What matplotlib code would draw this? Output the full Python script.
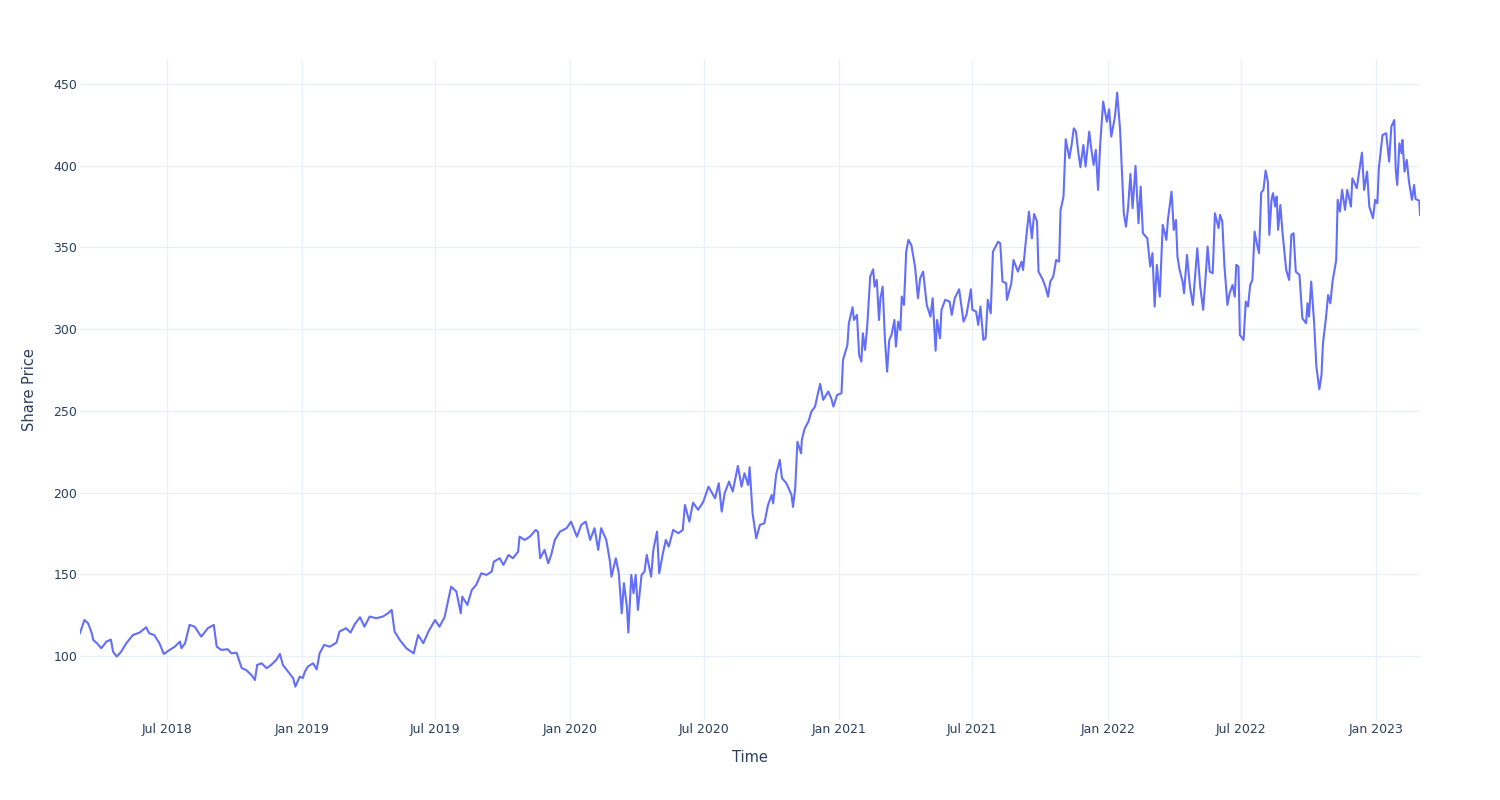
import matplotlib
matplotlib.use("Agg")
import matplotlib.pyplot as plt
import matplotlib.dates as mdates
import pandas as pd

# share price readings (date, close)
dates = [
    "2018-03-05", "2018-03-11", "2018-03-16", "2018-03-21", "2018-03-23", "2018-03-28",
    "2018-04-03", "2018-04-10", "2018-04-16", "2018-04-19", "2018-04-24", "2018-04-30",
    "2018-05-07", "2018-05-16", "2018-05-25", "2018-06-03", "2018-06-07", "2018-06-14",
    "2018-06-21", "2018-06-27", "2018-07-05", "2018-07-12", "2018-07-19", "2018-07-21",
    "2018-07-26", "2018-08-01", "2018-08-08", "2018-08-17", "2018-08-26", "2018-09-03",
    "2018-09-07", "2018-09-13", "2018-09-22", "2018-09-27", "2018-10-04", "2018-10-11",
    "2018-10-17", "2018-10-24", "2018-10-29", "2018-11-01", "2018-11-07", "2018-11-14",
    "2018-11-20", "2018-11-27", "2018-12-02", "2018-12-06", "2018-12-13", "2018-12-20",
    "2018-12-23", "2018-12-29", "2019-01-02", "2019-01-05", "2019-01-09", "2019-01-16",
    "2019-01-21", "2019-01-25", "2019-01-31", "2019-02-08", "2019-02-17", "2019-02-21",
    "2019-03-02", "2019-03-08", "2019-03-14", "2019-03-21", "2019-03-27", "2019-04-03",
    "2019-04-12", "2019-04-21", "2019-04-28", "2019-05-03", "2019-05-07", "2019-05-14",
    "2019-05-23", "2019-06-02", "2019-06-08", "2019-06-15", "2019-06-22", "2019-07-01",
    "2019-07-07", "2019-07-14", "2019-07-19", "2019-07-23", "2019-07-30", "2019-08-05",
    "2019-08-07", "2019-08-14", "2019-08-20", "2019-08-26", "2019-09-02", "2019-09-09",
    "2019-09-16", "2019-09-19", "2019-09-27", "2019-10-02", "2019-10-09", "2019-10-15",
    "2019-10-22", "2019-10-24", "2019-10-31", "2019-11-07", "2019-11-15", "2019-11-18",
    "2019-11-21", "2019-11-27", "2019-12-02", "2019-12-06", "2019-12-11", "2019-12-18",
    "2019-12-27", "2020-01-02", "2020-01-10", "2020-01-16", "2020-01-22", "2020-01-28",
    "2020-02-03", "2020-02-08", "2020-02-12", "2020-02-19", "2020-02-24", "2020-02-26",
    "2020-03-03", "2020-03-07", "2020-03-11", "2020-03-14", "2020-03-18", "2020-03-20",
    "2020-03-24", "2020-03-27", "2020-03-30", "2020-04-02", "2020-04-07", "2020-04-11",
    "2020-04-14", "2020-04-20", "2020-04-23", "2020-04-28", "2020-05-01", "2020-05-06",
    "2020-05-10", "2020-05-14", "2020-05-20", "2020-05-27", "2020-06-02", "2020-06-05",
    "2020-06-11", "2020-06-16", "2020-06-23", "2020-06-30", "2020-07-07", "2020-07-16",
    "2020-07-21", "2020-07-25", "2020-07-29", "2020-08-04", "2020-08-09", "2020-08-16",
    "2020-08-21", "2020-08-25", "2020-08-30", "2020-09-01", "2020-09-05", "2020-09-10",
    "2020-09-15", "2020-09-21", "2020-09-26", "2020-10-01", "2020-10-03", "2020-10-07",
    "2020-10-12", "2020-10-15", "2020-10-21", "2020-10-28", "2020-10-30", "2020-11-02",
    "2020-11-05", "2020-11-10", "2020-11-11", "2020-11-15", "2020-11-20", "2020-11-24",
    "2020-11-29", "2020-12-03", "2020-12-06", "2020-12-10", "2020-12-17", "2020-12-21",
    "2020-12-24", "2020-12-29", "2021-01-04", "2021-01-06", "2021-01-12", "2021-01-14",
    "2021-01-19", "2021-01-21", "2021-01-25", "2021-01-28", "2021-01-31", "2021-02-02",
    "2021-02-05", "2021-02-08", "2021-02-12", "2021-02-16", "2021-02-18", "2021-02-21",
    "2021-02-24", "2021-02-26", "2021-03-01", "2021-03-04", "2021-03-07", "2021-03-10",
    "2021-03-13", "2021-03-17", "2021-03-19", "2021-03-22", "2021-03-25", "2021-03-27",
    "2021-03-30", "2021-04-02", "2021-04-05", "2021-04-09", "2021-04-14", "2021-04-18",
    "2021-04-21", "2021-04-25", "2021-04-30", "2021-05-05", "2021-05-08", "2021-05-12",
    "2021-05-14", "2021-05-18", "2021-05-20", "2021-05-25", "2021-05-31", "2021-06-03",
    "2021-06-07", "2021-06-13", "2021-06-19", "2021-06-23", "2021-06-29", "2021-07-01",
    "2021-07-06", "2021-07-09", "2021-07-12", "2021-07-16", "2021-07-19", "2021-07-22",
    "2021-07-26", "2021-07-29", "2021-08-05", "2021-08-08", "2021-08-11", "2021-08-16",
    "2021-08-17", "2021-08-23", "2021-08-26", "2021-09-01", "2021-09-06", "2021-09-08",
    "2021-09-11", "2021-09-16", "2021-09-20", "2021-09-23", "2021-09-27", "2021-09-29",
    "2021-10-05", "2021-10-09", "2021-10-12", "2021-10-15", "2021-10-19", "2021-10-23",
    "2021-10-27", "2021-10-29", "2021-11-02", "2021-11-05", "2021-11-10", "2021-11-13",
    "2021-11-16", "2021-11-19", "2021-11-22", "2021-11-25", "2021-11-29", "2021-12-02",
    "2021-12-07", "2021-12-10", "2021-12-13", "2021-12-16", "2021-12-19", "2021-12-22",
    "2021-12-26", "2021-12-31", "2022-01-03", "2022-01-06", "2022-01-11", "2022-01-14",
    "2022-01-18", "2022-01-21", "2022-01-23", "2022-01-26", "2022-01-29", "2022-02-01",
    "2022-02-04", "2022-02-08", "2022-02-12", "2022-02-15", "2022-02-18", "2022-02-24",
    "2022-02-28", "2022-03-03", "2022-03-06", "2022-03-09", "2022-03-13", "2022-03-17",
    "2022-03-22", "2022-03-24", "2022-03-29", "2022-04-01", "2022-04-04", "2022-04-06",
    "2022-04-09", "2022-04-13", "2022-04-15", "2022-04-19", "2022-04-23", "2022-04-27",
    "2022-04-30", "2022-05-03", "2022-05-07", "2022-05-11", "2022-05-15", "2022-05-17",
    "2022-05-20", "2022-05-24", "2022-05-27", "2022-06-01", "2022-06-03", "2022-06-06",
    "2022-06-09", "2022-06-13", "2022-06-16", "2022-06-20", "2022-06-23", "2022-06-25",
    "2022-06-28", "2022-06-30", "2022-07-05", "2022-07-08", "2022-07-11", "2022-07-14",
    "2022-07-17", "2022-07-20", "2022-07-23", "2022-07-26", "2022-07-29", "2022-08-01",
    "2022-08-04", "2022-08-07", "2022-08-09", "2022-08-12", "2022-08-14", "2022-08-17",
    "2022-08-19", "2022-08-21", "2022-08-24", "2022-08-27", "2022-09-01", "2022-09-05",
    "2022-09-08", "2022-09-11", "2022-09-14", "2022-09-19", "2022-09-23", "2022-09-28",
    "2022-09-30", "2022-10-02", "2022-10-05", "2022-10-09", "2022-10-12", "2022-10-16",
    "2022-10-19", "2022-10-21", "2022-10-25", "2022-10-28", "2022-10-31", "2022-11-03",
    "2022-11-08", "2022-11-10", "2022-11-13", "2022-11-16", "2022-11-20", "2022-11-23",
    "2022-11-28", "2022-11-30", "2022-12-06", "2022-12-09", "2022-12-13", "2022-12-16",
    "2022-12-20", "2022-12-23", "2022-12-28", "2022-12-31", "2023-01-03", "2023-01-05",
    "2023-01-10", "2023-01-15", "2023-01-19", "2023-01-22", "2023-01-26", "2023-01-28",
    "2023-01-30", "2023-02-02", "2023-02-05", "2023-02-06", "2023-02-09", "2023-02-12",
    "2023-02-15", "2023-02-19", "2023-02-22", "2023-02-24", "2023-03-01", "2023-03-02",
]
prices = [
    114.0, 122.0, 120.0, 114.0, 109.8, 107.8,
    104.7, 108.8, 110.0, 102.6, 99.6, 102.6,
    107.8, 112.8, 114.3, 117.6, 113.9, 112.8,
    107.8, 101.2, 103.7, 105.7, 108.8, 104.7,
    107.8, 119.0, 117.9, 111.8, 117.0, 119.0,
    105.7, 103.7, 104.1, 101.6, 102.0, 92.5,
    91.4, 88.4, 85.3, 94.5, 95.5, 92.5,
    94.5, 97.6, 101.2, 94.5, 90.4, 86.4,
    81.2, 87.4, 86.4, 90.4, 93.5, 95.5,
    91.8, 101.6, 106.7, 105.7, 108.2, 114.9,
    117.0, 114.3, 119.6, 123.7, 117.9, 124.1,
    123.1, 124.1, 126.1, 128.2, 114.9, 109.8,
    104.7, 101.6, 112.8, 107.8, 114.9, 122.0,
    117.9, 123.7, 134.3, 142.4, 139.4, 126.1,
    136.3, 131.2, 140.4, 143.5, 150.6, 149.6,
    151.6, 157.7, 159.8, 155.7, 161.8, 159.8,
    163.8, 173.0, 171.0, 173.0, 177.1, 176.0,
    159.8, 164.9, 156.7, 161.8, 171.0, 176.1,
    178.2, 182.2, 173.0, 180.2, 182.2, 171.0,
    178.2, 164.9, 178.2, 171.0, 157.7, 148.5,
    159.8, 150.6, 126.1, 144.5, 130.2, 114.3,
    149.6, 138.4, 149.6, 128.2, 149.6, 151.6,
    161.8, 148.5, 164.9, 176.1, 150.6, 162.8,
    171.0, 166.9, 177.1, 175.1, 177.1, 192.4,
    182.2, 193.8, 189.4, 194.4, 203.6, 196.5,
    205.7, 188.3, 199.6, 206.7, 200.6, 216.3,
    203.6, 211.8, 204.6, 215.5, 187.3, 172.0,
    180.2, 181.2, 192.4, 198.5, 193.4, 210.8,
    220.0, 208.8, 205.7, 198.5, 191.2, 202.6,
    231.1, 224.0, 232.2, 239.3, 243.4, 249.5,
    252.6, 260.8, 266.5, 256.7, 261.8, 257.7,
    252.6, 259.7, 260.8, 281.1, 290.3, 303.6,
    313.4, 305.6, 308.7, 284.2, 280.1, 297.5,
    287.3, 302.0, 332.1, 336.6, 326.0, 330.1,
    305.6, 318.9, 326.0, 294.4, 274.0, 293.4,
    296.4, 305.6, 289.3, 304.6, 299.5, 319.9,
    314.8, 347.4, 354.6, 351.5, 338.3, 318.9,
    331.1, 335.2, 314.8, 307.7, 318.9, 286.8,
    305.6, 294.4, 311.8, 317.9, 316.9, 308.7,
    318.9, 324.4, 304.6, 308.7, 324.4, 311.8,
    310.8, 302.6, 313.8, 293.4, 294.4, 317.9,
    309.7, 347.4, 353.5, 352.5, 329.1, 328.1,
    317.9, 328.1, 342.3, 335.2, 341.3, 336.2,
    350.5, 371.9, 355.6, 370.5, 365.9, 335.2,
    330.1, 325.0, 319.9, 329.1, 332.1, 342.3,
    341.3, 372.9, 381.1, 416.2, 404.6, 412.7,
    422.9, 420.9, 408.6, 399.1, 412.7, 399.5,
    420.9, 409.7, 400.5, 409.7, 385.2, 413.7,
    439.2, 426.9, 434.5, 417.8, 430.0, 444.7,
    421.9, 391.3, 370.9, 362.7, 375.0, 395.0,
    374.0, 399.9, 364.8, 387.2, 358.7, 355.6,
    338.3, 346.5, 313.8, 339.3, 319.9, 363.8,
    354.6, 366.8, 384.2, 360.7, 366.8, 344.4,
    336.2, 329.1, 322.0, 345.4, 326.0, 314.8,
    332.1, 349.5, 326.0, 311.8, 336.2, 350.5,
    335.2, 334.2, 370.9, 361.8, 369.9, 365.9,
    338.3, 314.8, 322.0, 327.0, 319.9, 339.3,
    338.3, 296.4, 293.4, 316.9, 313.8, 327.0,
    330.1, 359.7, 352.5, 346.5, 383.6, 385.2,
    397.0, 390.3, 357.7, 379.1, 383.2, 375.0,
    381.1, 360.7, 376.0, 358.7, 336.2, 330.1,
    357.7, 358.7, 335.2, 333.2, 306.6, 303.6,
    315.8, 307.7, 329.1, 303.6, 277.1, 263.2,
    272.0, 291.4, 306.6, 320.9, 315.8, 329.1,
    342.3, 379.1, 371.9, 385.2, 373.0, 385.2,
    375.0, 392.3, 386.2, 395.4, 408.0, 385.2,
    396.4, 375.0, 367.9, 379.1, 377.0, 398.4,
    418.8, 419.9, 402.5, 423.9, 428.0, 397.4,
    388.2, 413.7, 407.6, 415.8, 396.4, 403.5,
    390.3, 379.1, 388.2, 379.6, 378.6, 369.9,
]

df = pd.DataFrame({"Time": pd.to_datetime(dates), "Price": prices})

text_color = "#2a3f5f"
grid_color = "#ebf0f8"

fig = plt.figure(figsize=(15, 8), dpi=100)
ax = fig.add_axes([80 / 1500, 80 / 800, 1340 / 1500, 660 / 800])

ax.plot(df["Time"], df["Price"], color="#636efa", linewidth=1.5)

ax.set_xlim(pd.Timestamp("2018-03-05"), pd.Timestamp("2023-03-02"))
ax.set_ylim(60.8, 464.7)

ax.xaxis.set_major_locator(mdates.MonthLocator(bymonth=[1, 7]))
ax.xaxis.set_major_formatter(mdates.DateFormatter("%b %Y"))
ax.set_yticks([100, 150, 200, 250, 300, 350, 400, 450])

ax.grid(True, color=grid_color, linewidth=1)
ax.set_axisbelow(True)
for side in ax.spines.values():
    side.set_visible(False)
ax.tick_params(length=0, labelsize=9, labelcolor=text_color)
ax.tick_params(axis="x", pad=2)
ax.tick_params(axis="y", pad=2)

ax.set_xlabel("Time", fontsize=10.5, color=text_color, labelpad=10)
ax.set_ylabel("Share Price", fontsize=10.5, color=text_color, labelpad=12)

fig.savefig("out.png", dpi=100, facecolor="white")
